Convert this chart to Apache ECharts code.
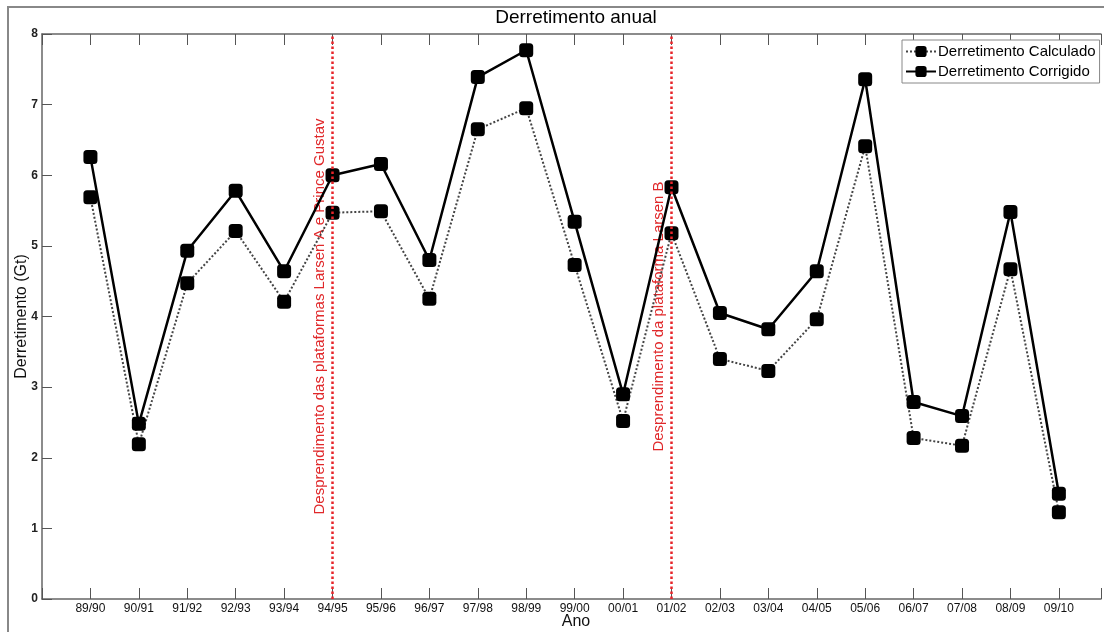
<!DOCTYPE html>
<html><head><meta charset="utf-8">
<script src="https://cdn.jsdelivr.net/npm/echarts@6/dist/echarts.min.js"></script>
<style>html,body{margin:0;padding:0;background:#fff}#c{width:1104px;height:632px}</style>
</head><body><div id="c"></div><script>
const years = ['89/90','90/91','91/92','92/93','93/94','94/95','95/96','96/97','97/98','98/99','99/00','00/01','01/02','02/03','03/04','04/05','05/06','06/07','07/08','08/09','09/10'];
const calculado = [5.69,2.19,4.47,5.21,4.21,5.47,5.49,4.25,6.65,6.95,4.73,2.52,5.18,3.40,3.23,3.96,6.41,2.28,2.17,4.67,1.23];
const corrigido = [6.26,2.48,4.93,5.78,4.64,6.00,6.16,4.80,7.39,7.77,5.34,2.90,5.83,4.05,3.82,4.64,7.36,2.79,2.59,5.48,1.49];
const eventYears = ['94/95','01/02'];
const eventLabels = ['Desprendimento das plataformas Larsen A e Prince Gustav','Desprendimento da plataforma Larsen B'];
const seriesNames = ['Derretimento Calculado','Derretimento Corrigido'];
const titleText = 'Derretimento anual';
const yName = 'Derretimento (Gt)';
const xName = 'Ano';

const chart = echarts.init(document.getElementById('c'), null, {renderer:'canvas'});
const FONT = 'Liberation Sans, Arial, sans-serif';
const axisCommon = {
  type:'value', min:0, max:21.87, interval:1,
  axisLine:{show:true, onZero:false, lineStyle:{color:'#666', width:1.5}},
  axisTick:{show:true, inside:true, length:11, lineStyle:{color:'#555', width:1}},
  splitLine:{show:false}
};
const yCommon = {
  type:'value', min:0, max:8, interval:1,
  axisLine:{show:true, onZero:false, lineStyle:{color:'#666', width:1.5}},
  axisTick:{show:true, inside:true, length:10, lineStyle:{color:'#555', width:1}},
  splitLine:{show:false}
};
const toPts = arr => arr.map((v,i)=>[i+1, v]);
chart.setOption({
  animation:false,
  backgroundColor:'#fff',
  grid:{left:42, top:34, right:0, bottom:33, containLabel:false},
  xAxis:[
    Object.assign({}, axisCommon, {position:'bottom',
      axisLabel:{show:true, margin:4, fontSize:12, color:'#111', fontFamily:FONT,
        formatter: v => (Number.isInteger(v) && years[v-1]) || ''}}),
    Object.assign({}, axisCommon, {position:'top', axisLabel:{show:false}})
  ],
  yAxis:[
    Object.assign({}, yCommon, {position:'left',
      axisLabel:{show:true, margin:4, fontSize:12, fontWeight:'bold', color:'#222', fontFamily:FONT}}),
    Object.assign({}, yCommon, {position:'right', show:false})
  ],
  legend:{
    data:seriesNames, orient:'vertical', left:902, top:40,
    itemWidth:30, itemHeight:14, itemGap:5, padding:[4,4,4,3],
    borderColor:'#888', borderWidth:1, backgroundColor:'#fff',
    textStyle:{fontSize:15, color:'#000', fontFamily:FONT, padding:[0,0,0,-3]}
  },
  series:[
    {name:seriesNames[0], type:'line', data:toPts(calculado), symbol:'roundRect', symbolSize:14,
     itemStyle:{color:'#000'}, lineStyle:{color:'#444', width:2, type:'dotted'}, z:2},
    {name:seriesNames[1], type:'line', data:toPts(corrigido), symbol:'roundRect', symbolSize:14,
     itemStyle:{color:'#000'}, lineStyle:{color:'#000', width:2.5, type:'solid'}, z:3,
     markLine:{silent:true, symbol:'none', label:{show:false},
       lineStyle:{color:'#e8242a', type:'dotted', width:2.5},
       data: eventYears.map(y => ({xAxis: years.indexOf(y)+1}))}}
  ]
});
const midY = chart.convertToPixel({yAxisIndex:0}, 4);
const graphics = [
  {type:'rect', shape:{x:8, y:7, width:1200, height:700}, style:{fill:null, stroke:'#888', lineWidth:2}, z:-1, silent:true},
  {type:'text', x:576, y:18, style:{text:titleText, fontSize:19, fill:'#000', fontFamily:FONT, textAlign:'center', textVerticalAlign:'middle'}},
  {type:'text', x:22, y:midY, rotation:Math.PI/2, style:{text:yName, fontSize:16, fill:'#111', fontFamily:FONT, textAlign:'center', textVerticalAlign:'middle'}},
  {type:'text', x:576, y:622, style:{text:xName, fontSize:16, fill:'#111', fontFamily:FONT, textAlign:'center', textVerticalAlign:'middle'}}
];
eventYears.forEach((y,k) => {
  const px = chart.convertToPixel({xAxisIndex:0}, years.indexOf(y)+1);
  graphics.push({type:'text', x:px-13, y:midY, rotation:Math.PI/2,
    style:{text:eventLabels[k], fontSize:15, fill:'#e0282a', fontFamily:FONT, textAlign:'center', textVerticalAlign:'middle'}});
});
chart.setOption({graphic:graphics});
</script></body></html>
